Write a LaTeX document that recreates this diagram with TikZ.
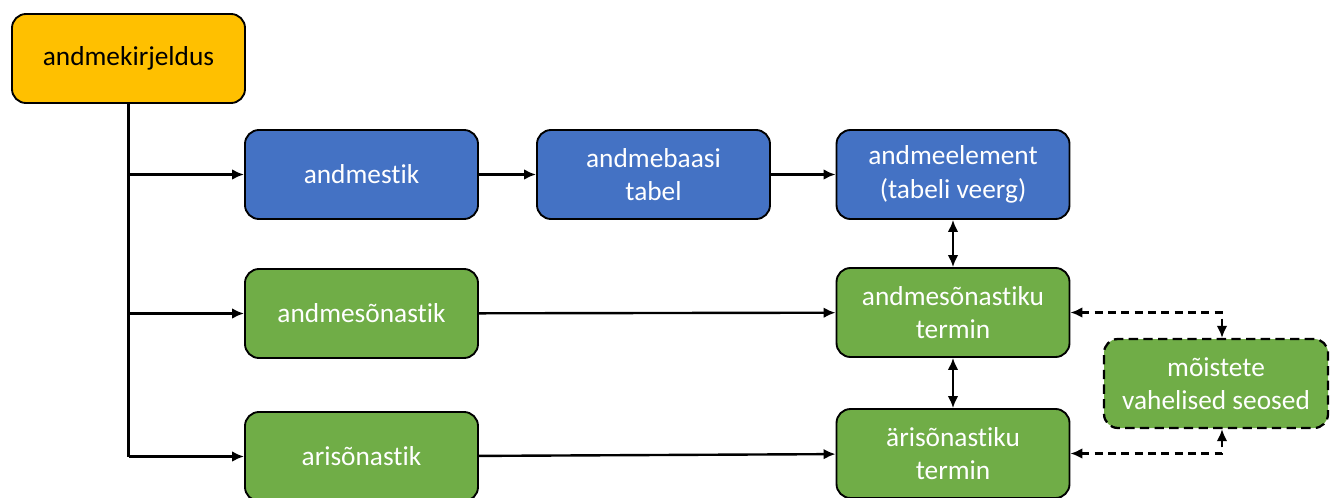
\documentclass[tikz,border=0pt]{standalone}
\usepackage{fontspec}
\setmainfont{Carlito}[Ligatures={NoCommon}]
\usetikzlibrary{arrows.meta}
\definecolor{boxyellow}{HTML}{FFC000}
\definecolor{boxblue}{HTML}{4472C4}
\definecolor{boxgreen}{HTML}{70AD47}
\begin{document}
\begin{tikzpicture}[x=0.75pt, y=-0.75pt,
    every node/.style = {shape=rectangle, rounded corners=10.5pt,
      draw, line width=1.4pt, align=center,
      minimum width=174.75pt, minimum height=66.75pt,
      font=\fontsize{20.5}{25}\selectfont},
    yellowbox/.style = {fill=boxyellow, text=black},
    bluebox/.style = {fill=boxblue, text=white},
    greenbox/.style = {fill=boxgreen, text=white},
    link/.style = {line width=1.8pt, -{Latex[length=9pt,width=8pt]}},
    duallink/.style = {line width=1.6pt, {Latex[length=9pt,width=8pt]}-{Latex[length=9pt,width=8pt]}},
    dashlink/.style = {duallink, line width=1.6pt, dash pattern=on 6pt off 4pt}]
    \useasboundingbox (0,0) rectangle (1330,497);
    \node[yellowbox] (desc) at (128.5,58.5) {andmekirjeldus};
    \node[bluebox] (set) at (361.5,174.5) {andmestik};
    \node[bluebox] (table) at (653.5,174.5) {andmebaasi\\tabel};
    \node[bluebox] (elem) at (953,174.5) {andmeelement\\(tabeli veerg)};
    \node[greenbox] (ddict) at (361.5,313.5) {andmesõnastik};
    \node[greenbox] (dterm) at (953,312.5) {andmesõnastiku\\termin};
    \node[greenbox] (bdict) at (361.5,456.5) {arisõnastik};
    \node[greenbox] (bterm) at (953,453.5) {ärisõnastiku\\termin};
    \node[greenbox, line width=1.7pt, dash pattern=on 7pt off 4pt, minimum width=168pt] (rel) at (1216,383.5)
        {mõistete\\vahelised seosed};
    \coordinate (trunk) at (desc.south |- bdict.west);
    \draw[line width=1.8pt] (desc.south) -- (trunk);
    \draw[link] (desc.south |- set.west) -- (set.west);
    \draw[link] (desc.south |- ddict.west) -- (ddict.west);
    \draw[link] (trunk) -- (bdict.west);
    \draw[link] (set) -- (table);
    \draw[link] (table) -- (elem);
    \draw[link] (ddict) -- (dterm);
    \draw[link] (bdict) -- (bterm);
    \draw[duallink] (elem) -- (dterm);
    \draw[duallink] (dterm) -- (bterm);
    \draw[dashlink] (dterm.east) -| ([xshift=4.5pt]rel.north);
    \draw[dashlink] (bterm.east) -| ([xshift=4.5pt]rel.south);
\end{tikzpicture}
\end{document}
